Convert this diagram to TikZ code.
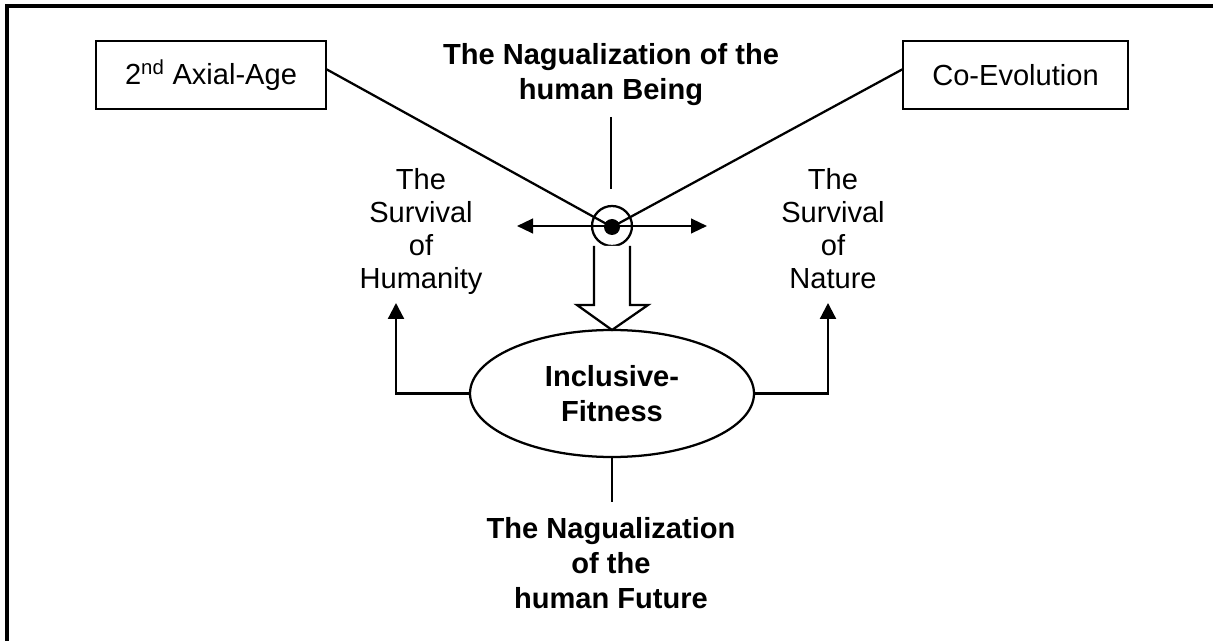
\documentclass[tikz,border=0pt]{standalone}
\usepackage{fontspec}
\setmainfont{Liberation Sans}
\usetikzlibrary{arrows.meta,calc,shapes.geometric}
\begin{document}
\begin{tikzpicture}[x=0.75pt,y=-0.75pt,
  every node/.style={inner sep=0pt,outer sep=0pt},
  txt/.style={align=center,font=\fontsize{21.8}{24.75}\selectfont},
  btxt/.style={align=center,font=\fontsize{21.8}{26.25}\selectfont\bfseries},
  conc/.style={line width=1.7pt},
  boxn/.style={draw,line width=1.7pt,rectangle,minimum width=172.5pt,minimum height=51pt,font=\fontsize{21.8}{25}\selectfont},
  tipa/.style={-{Triangle[length=12pt,width=12pt]}},
  tipb/.style={{Triangle[length=12pt,width=11pt]}-{Triangle[length=12pt,width=11pt]}}]
\useasboundingbox (0,0) rectangle (1213,641);
% frame
\draw[line width=3pt] (6.5,641) -- (6.5,6.5) -- (1213,6.5);
% boxes
\node[boxn] (axial) at (211,75) {2\textsuperscript{nd} Axial-Age};
\node[boxn,minimum width=168.75pt] (coevo) at (1015.5,75) {Co-Evolution};
% title
\node[btxt] (title) at (611,75) {The Nagualization of the\\human Being};
\coordinate (t1) at (611,117);
\coordinate (t2) at (611,189);
\draw[conc] (t1) -- (t2);
% center circle and dot
\node[draw,circle,line width=1.7pt,minimum size=30pt] (circ) at (612,226) {};
\node[fill,circle,minimum size=12pt] (dot) at (612,227) {};
\coordinate (la) at (517,226);
\coordinate (ra) at (707,226);
\draw[conc,tipb] (la) -- (ra);
\draw[conc] ($(axial.east)+(0,-6)$) -- (dot.center);
\draw[conc] ($(coevo.west)+(0,-6)$) -- (dot.center);
% ellipse
\node[draw,ellipse,line width=1.7pt,minimum width=213pt,minimum height=95.25pt,btxt] (ell) at (612,393.5) {Inclusive-\\Fitness};
% hollow block arrow
\draw[conc,fill=white,line join=miter] (594,246) -- (594,305) -- (577,305) -- (ell.north) -- (648,305) -- (630,305) -- (630,246);
% survival texts
\node[txt,anchor=north] (hum) at (421,168) {The\\Survival\\of\\Humanity};
\node[txt,anchor=north] (nat) at (833,168) {The\\Survival\\of\\Nature};
\coordinate (hl) at (396,303);
\coordinate (nr) at (828,303);
\draw[conc,tipa] (ell.west) -| (hl);
\draw[conc,tipa] (ell.east) -| (nr);
% bottom
\coordinate (b1) at (612,502);
\draw[conc] (ell.south) -- (b1);
\node[btxt] (future) at (611,563) {The Nagualization\\of the\\human Future};
\end{tikzpicture}
\end{document}
